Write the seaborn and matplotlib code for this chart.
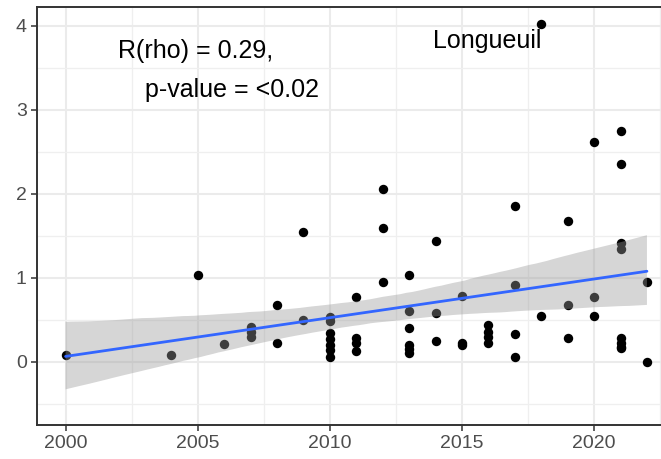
import numpy as np
import pandas as pd
import matplotlib
matplotlib.use("Agg")
import matplotlib.pyplot as plt
import seaborn as sns
from matplotlib.collections import PolyCollection

# data
years = [2000, 2004, 2005, 2006,
         2007, 2007, 2007,
         2008, 2008,
         2009, 2009,
         2010, 2010, 2010, 2010, 2010, 2010, 2010,
         2011, 2011, 2011, 2011,
         2012, 2012, 2012,
         2013, 2013, 2013, 2013, 2013, 2013,
         2014, 2014, 2014,
         2015, 2015, 2015,
         2016, 2016, 2016, 2016,
         2017, 2017, 2017, 2017,
         2018, 2018,
         2019, 2019, 2019,
         2020, 2020, 2020,
         2021, 2021, 2021, 2021, 2021, 2021, 2021, 2021,
         2022, 2022]
values = [0.08, 0.08, 1.03, 0.21,
          0.42, 0.36, 0.30,
          0.68, 0.23,
          1.55, 0.50,
          0.54, 0.49, 0.34, 0.27, 0.20, 0.14, 0.06,
          0.77, 0.28, 0.22, 0.13,
          2.06, 1.59, 0.95,
          1.03, 0.60, 0.40, 0.20, 0.15, 0.11,
          1.44, 0.58, 0.25,
          0.78, 0.23, 0.20,
          0.44, 0.36, 0.30, 0.23,
          1.85, 0.91, 0.33, 0.06,
          4.02, 0.55,
          1.67, 0.68, 0.29,
          2.62, 0.77, 0.55,
          2.74, 2.35, 1.41, 1.34, 0.28, 0.23, 0.18, 0.16,
          0.95, 0.00]

site = "Longueuil"
stat_lines = ["R(rho) = 0.29,", "p-value = <0.02"]

df = pd.DataFrame({"year": years, "value": values})

sns.set_style("white")
plt.rcParams["font.family"] = ["Liberation Sans", "DejaVu Sans"]

fig = plt.figure(figsize=(6.61, 4.59), dpi=100)
# panel runs past the right edge of the image, like the reference
ax = fig.add_axes([36.5 / 661, 34 / 459, 639.5 / 661, 418 / 459])

# points under the ribbon
sns.scatterplot(data=df, x="year", y="value", ax=ax, color="black",
                s=46, linewidth=0, zorder=2, legend=False)
sns.regplot(data=df, x="year", y="value", ax=ax, scatter=False,
            ci=95, n_boot=2000, seed=3,
            line_kws={"color": "#3366FF", "lw": 2.0, "zorder": 4})

for coll in ax.collections:
    if isinstance(coll, PolyCollection):
        coll.set_facecolor("#999999")
        coll.set_alpha(0.4)
        coll.set_edgecolor("none")
        coll.set_zorder(3)

ax.set_xlim(1998.9, 2023.1)
ax.set_ylim(-0.75, 4.22)
ax.set_xticks([2000, 2005, 2010, 2015, 2020])
ax.set_yticks([0, 1, 2, 3, 4])
ax.set_xticks(np.arange(2002.5, 2023, 5), minor=True)
ax.set_yticks(np.arange(-0.5, 4.1, 1), minor=True)
ax.grid(True, which="major", color="#EBEBEB", lw=1.5, zorder=0)
ax.grid(True, which="minor", color="#EFEFEF", lw=0.9, zorder=0)
ax.set_axisbelow(True)
ax.set_xlabel("")
ax.set_ylabel("")

for side in ["left", "bottom", "top", "right"]:
    ax.spines[side].set_color("#333333")
    ax.spines[side].set_linewidth(1.4)
ax.tick_params(which="major", direction="out", length=4, width=1.1,
               color="#333333", labelcolor="#4D4D4D", labelsize=14, pad=3,
               left=True, bottom=True)
ax.tick_params(which="minor", length=0)

ax.text(2002.0, 3.70, stat_lines[0], fontsize=18, color="black",
        ha="left", va="center")
ax.text(2003.0, 3.23, stat_lines[1], fontsize=18, color="black",
        ha="left", va="center")
ax.text(2015.95, 3.82, site, fontsize=18, color="black",
        ha="center", va="center")

fig.savefig("out.png", dpi=100)
